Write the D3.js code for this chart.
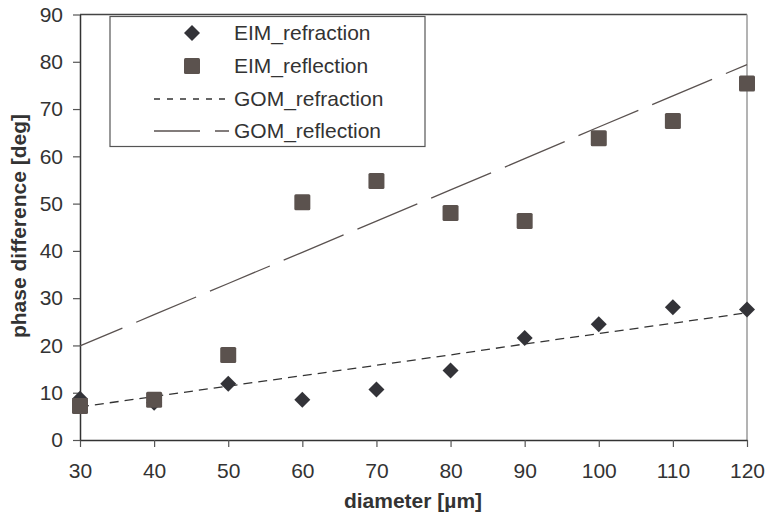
<!DOCTYPE html>
<html>
<head>
  <meta charset="utf-8">
  <title>Phase difference vs diameter</title>
  <script src="https://d3js.org/d3.v7.min.js"></script>
  <style>
    body { margin: 0; background: #fff; }
    svg { display: block; font-family: "Liberation Sans", Arial, sans-serif; }
  </style>
</head>
<body>
  <svg width="770" height="522"></svg>

  <script>
    const diameters = [30, 40, 50, 60, 70, 80, 90, 100, 110, 120];
    const eimRefraction = [8.7, 7.9, 11.9, 8.5, 10.7, 14.7, 21.6, 24.5, 28.1, 27.6];
    const eimReflection = [7.2, 8.5, 18.0, 50.3, 54.8, 48.0, 46.3, 63.8, 67.5, 75.4];
    const gomRefraction = [7.0, 9.2, 11.4, 13.6, 15.8, 18.0, 20.3, 22.5, 24.7, 26.9];
    const gomReflection = [19.9, 26.5, 33.1, 39.7, 46.3, 52.9, 59.5, 66.2, 72.8, 79.4];
    const xTicks = [30, 40, 50, 60, 70, 80, 90, 100, 110, 120];
    const yTicks = [0, 10, 20, 30, 40, 50, 60, 70, 80, 90];
    const seriesNames = ["EIM_refraction", "EIM_reflection", "GOM_refraction", "GOM_reflection"];

    const svg = d3.select("svg");
    const plotL = 80, plotR = 747, plotT = 14.5, plotB = 440;

    const x = d3.scaleLinear().domain([30, 120]).range([plotL, plotR]);
    const y = d3.scaleLinear().domain([0, 90]).range([plotB, plotT]);

    // plot frame (top dark, right light)
    svg.append("line").attr("x1", plotL).attr("x2", plotR).attr("y1", plotT).attr("y2", plotT)
      .attr("stroke", "#444").attr("stroke-width", 1.3);
    svg.append("line").attr("x1", plotR).attr("x2", plotR).attr("y1", plotT).attr("y2", plotB)
      .attr("stroke", "#9a9a9a").attr("stroke-width", 1.5);

    // axes
    const xAxis = svg.append("g").attr("transform", `translate(0,${plotB})`)
      .call(d3.axisBottom(x).tickValues(xTicks).tickSize(7).tickPadding(16).tickSizeOuter(0));
    const yAxis = svg.append("g").attr("transform", `translate(${plotL},0)`)
      .call(d3.axisLeft(y).tickValues(yTicks).tickSize(7).tickPadding(10).tickSizeOuter(0));
    [xAxis, yAxis].forEach(g => {
      g.attr("font-family", null).attr("font-size", 21);
      g.select(".domain").attr("stroke", "#333").attr("stroke-width", 1.5);
      g.selectAll(".tick line").attr("stroke", "#555").attr("stroke-width", 1.2);
      g.selectAll(".tick text").attr("fill", "#333");
    });

    // axis titles
    svg.append("text").attr("x", 413).attr("y", 508).attr("text-anchor", "middle")
      .attr("font-size", 21).attr("font-weight", "bold").attr("fill", "#333")
      .text("diameter [µm]");
    svg.append("text").attr("transform", "translate(26,226) rotate(-90)").attr("text-anchor", "middle")
      .attr("font-size", 21).attr("font-weight", "bold").attr("fill", "#333")
      .text("phase difference [deg]");

    const line = d3.line().x((d, i) => x(diameters[i])).y(d => y(d));

    // GOM lines
    svg.append("path").datum(gomRefraction).attr("d", line)
      .attr("fill", "none").attr("stroke", "#333").attr("stroke-width", 1.3)
      .attr("stroke-dasharray", "9,6");
    svg.append("path").datum(gomReflection).attr("d", line)
      .attr("fill", "none").attr("stroke", "#5a5250").attr("stroke-width", 1.3)
      .attr("stroke-dasharray", "65,15").attr("stroke-dashoffset", 19);

    const diamond = d3.symbol().type(d3.symbolSquare).size(128);

    // EIM markers
    svg.append("g").selectAll("path").data(eimRefraction).join("path")
      .attr("d", diamond)
      .attr("transform", (d, i) => `translate(${x(diameters[i])},${y(d)}) rotate(45)`)
      .attr("fill", "#333338");
    svg.append("g").selectAll("rect").data(eimReflection).join("rect")
      .attr("x", (d, i) => x(diameters[i]) - 8).attr("y", d => y(d) - 8)
      .attr("width", 16).attr("height", 16).attr("rx", 1.5)
      .attr("fill", "#5b524e");

    // legend
    const lg = svg.append("g");
    lg.append("rect").attr("x", 110).attr("y", 16.5).attr("width", 315).attr("height", 130)
      .attr("fill", "#fff").attr("stroke", "#555").attr("stroke-width", 1.2);
    const rowY = [33, 66, 99, 131];
    const textX = 234, markX = 192;
    seriesNames.forEach((name, i) => {
      lg.append("text").attr("x", textX).attr("y", rowY[i]).attr("dy", "0.35em")
        .attr("font-size", 21).attr("fill", "#333").text(name);
    });
    lg.append("path").attr("d", diamond)
      .attr("transform", `translate(${markX},${rowY[0]}) rotate(45)`).attr("fill", "#333338");
    lg.append("rect").attr("x", markX - 8).attr("y", rowY[1] - 8).attr("width", 16).attr("height", 16)
      .attr("rx", 1.5).attr("fill", "#5b524e");
    lg.append("line").attr("x1", 154).attr("x2", 229).attr("y1", rowY[2]).attr("y2", rowY[2])
      .attr("stroke", "#333").attr("stroke-width", 1.3).attr("stroke-dasharray", "6,7");
    lg.append("line").attr("x1", 154).attr("x2", 229).attr("y1", rowY[3]).attr("y2", rowY[3])
      .attr("stroke", "#5a5250").attr("stroke-width", 1.3)
      .attr("stroke-dasharray", "46,15,65,15");
  </script>
</body>
</html>
